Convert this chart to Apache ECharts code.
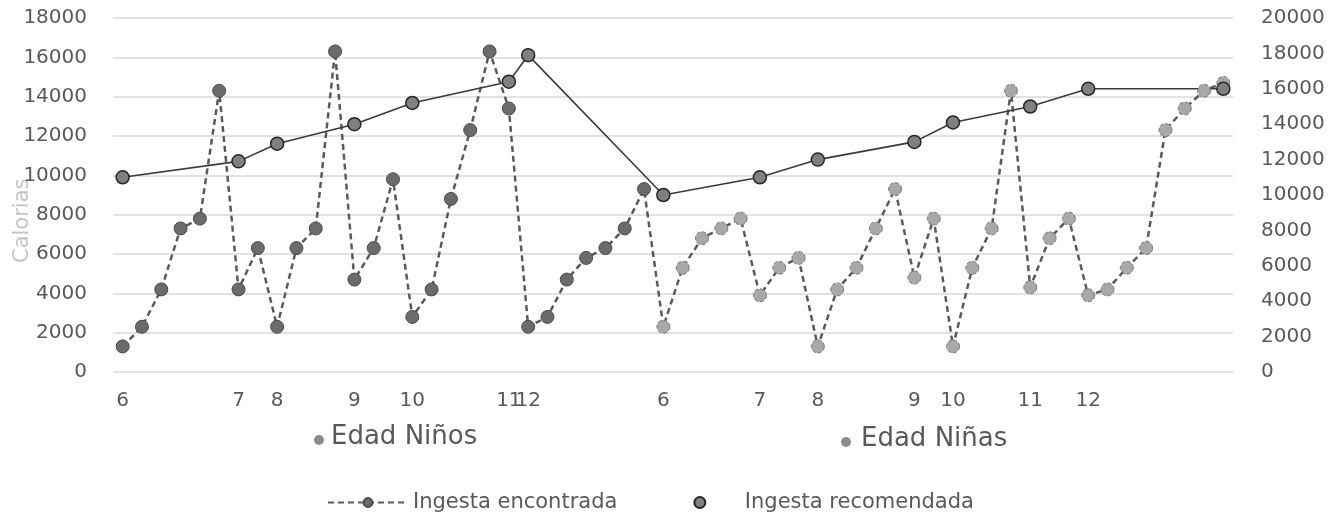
<!DOCTYPE html>
<html>
<head>
<meta charset="utf-8">
<script src="https://cdn.jsdelivr.net/npm/echarts@6/dist/echarts.min.js"></script>
<style>html,body{margin:0;padding:0;background:#fff;}#c{width:1344px;height:512px;}</style>
</head>
<body>
<div id="c"></div>
<script>
// Tick labels along the x axis (ages), one per data position
var xLabels = ['6','','','','','','7','','8','','','','9','','','10','','','','','11','12','','','','','','',
               '6','','','','','7','','','8','','','','','9','','10','','','','11','','','12','','','','','','',''];
// Ingesta encontrada (left axis) - boys then girls
var boysFound = [1300,2300,4200,7300,7800,14300,4200,6300,2300,6300,7300,16300,4700,6300,9800,2800,4200,8800,12300,16300,13400,2300,2800,4700,5800,6300,7300,9300];
var girlsFound = [2300,5300,6800,7300,7800,3900,5300,5800,1300,4200,5300,7300,9300,4800,7800,1300,5300,7300,14300,4300,6800,7800,3900,4200,5300,6300,12300,13400,14300,14700];
// Ingesta recomendada (right axis), placed at these positions
var recIndex = [0,6,8,12,15,20,21,28,33,36,41,43,47,50,57];
var recValues = [11000,11900,12900,14000,15200,16400,17900,10000,11000,12000,13000,14100,15000,16000,16000];
var leftTicks = {min:0, max:18000, interval:2000};
var rightTicks = {min:0, max:20000, interval:2000};

var FONT = 'DejaVu Sans';
var found = boysFound.map(function(v){return {value:v};}).concat(
  girlsFound.map(function(v){return {value:v, itemStyle:{color:'#a8a8a8', borderColor:'#7a7a7a', borderType:'dashed'}};}));
var rec = xLabels.map(function(){return null;});
recIndex.forEach(function(ix,i){ rec[ix] = recValues[i]; });
function plain(v){ return String(v); }

var chart = echarts.init(document.getElementById('c'));
chart.setOption({
  backgroundColor:'#fff',
  animation:false,
  grid:{left:113, right:111, top:18, bottom:140, outerBoundsMode:'none', containLabel:false},
  xAxis:{type:'category', data:xLabels, boundaryGap:true,
    axisLine:{show:false}, axisTick:{show:false},
    axisLabel:{interval:0, margin:19, color:'#595959', fontFamily:FONT, fontSize:20}},
  yAxis:[
    {type:'value', min:leftTicks.min, max:leftTicks.max, interval:leftTicks.interval,
     axisLine:{show:false}, axisTick:{show:false},
     axisLabel:{margin:26, color:'#595959', fontFamily:FONT, fontSize:20, formatter:plain},
     splitLine:{lineStyle:{color:'#d9d9d9', width:1.5}}},
    {type:'value', min:rightTicks.min, max:rightTicks.max, interval:rightTicks.interval,
     position:'right', axisLine:{show:false}, axisTick:{show:false},
     axisLabel:{margin:28, color:'#595959', fontFamily:FONT, fontSize:20, formatter:plain},
     splitLine:{show:false}}
  ],
  legend:{top:487, left:322, itemWidth:80, itemHeight:11, itemGap:76,
    textStyle:{color:'#595959', fontFamily:FONT, fontSize:21},
    data:['Ingesta encontrada', {name:'Ingesta recomendada', icon:'circle'}]},
  graphic:[
    {type:'text', x:12, y:263, rotation:Math.PI/2,
     style:{text:'Calorias', fill:'#c4c4c4', font:'21px "DejaVu Sans"'}},
    {type:'circle', shape:{cx:319, cy:440, r:5}, style:{fill:'#8c8c8c'}},
    {type:'text', left:331, top:424, style:{text:'Edad Niños', fill:'#595959', font:'26px "DejaVu Sans"'}},
    {type:'circle', shape:{cx:846, cy:442, r:5}, style:{fill:'#8c8c8c'}},
    {type:'text', left:861, top:426, style:{text:'Edad Niñas', fill:'#595959', font:'26px "DejaVu Sans"'}}
  ],
  series:[
    {name:'Ingesta encontrada', type:'line', yAxisIndex:0, data:found,
     symbol:'circle', symbolSize:13,
     lineStyle:{color:'#5a5a5a', width:2.5, type:[6,4]},
     itemStyle:{color:'#6b6b6b', borderColor:'#4a4a4a', borderWidth:1}},
    {name:'Ingesta recomendada', type:'line', yAxisIndex:1, data:rec, connectNulls:true,
     symbol:'circle', symbolSize:13,
     lineStyle:{color:'#3a3a3a', width:1.6},
     itemStyle:{color:'#808080', borderColor:'#262626', borderWidth:1.5}}
  ]
});
</script>
</body>
</html>
